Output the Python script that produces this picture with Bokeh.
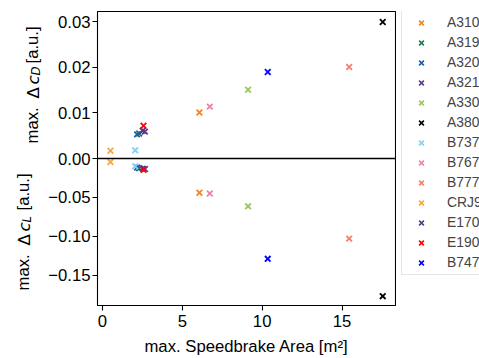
import math
from bokeh.plotting import figure
from bokeh.layouts import row
from bokeh.models import Range1d, FixedTicker, Span, Label, Legend, LegendItem
from bokeh.embed import file_html
from bokeh.resources import INLINE

# ---------------- data ----------------
aircraft = ["A310", "A319", "A320", "A321", "A330", "A380", "B737",
            "B767", "B777", "CRJ9", "E170", "E190", "B747"]
area = [6.07, 2.30, 2.17, 2.66, 9.12, 17.55, 2.05,
        6.72, 15.45, 0.50, 2.52, 2.57, 10.35]
max_dcd = [0.0101, 0.0055, 0.0053, 0.0059, 0.0151, 0.0300, 0.0018,
           0.0114, 0.0201, 0.0017, 0.0061, 0.0072, 0.0190]
max_dcl = [-0.0440, -0.0125, -0.0115, -0.0135, -0.0615, -0.1770, -0.0100,
           -0.0450, -0.1030, -0.0045, -0.0130, -0.0145, -0.1290]
colors = ["#f28522", "#1b7c4a", "#1d5ea8", "#5c3b8c", "#99c85a", "#000000", "#87cef0",
          "#ee7fb0", "#f4806c", "#faa63c", "#5a3a8e", "#ff0000", "#0000ff"]

x_ticks = [0, 5, 10, 15]
cd_ticks = [0.0, 0.01, 0.02, 0.03]
cd_labels = ["0.00", "0.01", "0.02", "0.03"]
cl_ticks = [-0.15, -0.10, -0.05]
cl_labels = ["\u22120.15", "\u22120.10", "\u22120.05"]

x_lim = (-0.31, 18.35)
cd_max = 0.0323
cl_min = -0.189

FONT = "Liberation Sans"
FS = "16.7px"
H = 358
TOP_B = 11
BOT_B = 53
LAB_W = 45
MAIN_W = 351
LEG_W = 479 - LAB_W - MAIN_W
FRAME_BOTTOM = H - BOT_B  # page y of the frames' bottom edge

# ---------------- main plot (both panels) ----------------
p = figure(width=MAIN_W, height=H,
           x_range=Range1d(*x_lim),
           y_range=Range1d(cl_min, -cl_min),
           min_border_left=51, min_border_right=1, min_border_top=TOP_B, min_border_bottom=BOT_B,
           output_backend="svg", toolbar_location=None)
p.extra_y_ranges = {"top": Range1d(-cd_max, cd_max)}

p.xgrid.visible = False
p.ygrid.visible = False
p.outline_line_color = "black"
p.outline_line_width = 1.1
p.outline_line_alpha = 1.0

xa = p.xaxis[0]
xa.ticker = FixedTicker(ticks=x_ticks)
xa.minor_tick_line_color = None
xa.major_tick_in = 0
xa.major_tick_out = 5
xa.major_tick_line_width = 1.1
xa.major_label_standoff = 4
xa.major_label_text_font = FONT
xa.major_label_text_font_size = FS
xa.major_label_text_color = "black"
xa.axis_line_color = "black"
xa.axis_label = "max. Speedbrake Area [m\u00b2]"
xa.axis_label_text_font = FONT
xa.axis_label_text_font_size = FS
xa.axis_label_text_font_style = "normal"
xa.axis_label_text_color = "black"
xa.axis_label_standoff = 7

# one y axis for both panels; the top-panel ticks are mapped through the ratio of the ranges
ratio = (-cl_min) / cd_max
top_pos = [v * ratio for v in cd_ticks]
ya = p.yaxis[0]
ya.ticker = FixedTicker(ticks=cl_ticks + top_pos)
overrides = {}
for v, lab_txt in zip(cl_ticks, cl_labels):
    overrides[v] = lab_txt
for v, lab_txt in zip(top_pos, cd_labels):
    overrides[v] = lab_txt
ya.major_label_overrides = overrides
ya.minor_tick_line_color = None
ya.major_tick_in = 0
ya.major_tick_out = 5
ya.major_tick_line_width = 1.1
ya.major_label_standoff = 2
ya.major_label_text_font = FONT
ya.major_label_text_font_size = FS
ya.major_label_text_color = "black"
ya.axis_line_color = "black"

p.add_layout(Span(location=0, dimension="width", line_color="black", line_width=1.6))

for name, xv, cd, cl, c in zip(aircraft, area, max_dcd, max_dcl, colors):
    p.scatter(x=[xv], y=[cd], y_range_name="top", marker="x", size=8,
              line_color=c, line_width=1.8)
    p.scatter(x=[xv], y=[cl], marker="x", size=8, line_color=c, line_width=1.8)

# ---------------- y-axis titles ----------------
lab = figure(width=LAB_W, height=H, x_range=Range1d(0, 1), y_range=Range1d(0, 1),
             min_border_left=0, min_border_right=0, min_border_top=TOP_B, min_border_bottom=BOT_B,
             x_axis_location=None, y_axis_location=None,
             output_backend="svg", toolbar_location=None)
lab.outline_line_color = None
lab.xgrid.visible = False
lab.ygrid.visible = False


def ylabel(x0, page_y_start, sub):
    y0 = FRAME_BOTTOM - page_y_start
    kw = dict(x_units="screen", y_units="screen", angle=math.pi / 2,
              text_align="left", text_baseline="alphabetic", text_color="black")
    pieces = [
        (0.0, 0.0, "max.", FONT, "normal", FS),
        (0.0, 45.0, "\u0394", "DejaVu Sans", "normal", FS),
        (0.0, 59.0, "c", "DejaVu Sans", "italic", FS),
        (3.5, 68.0, sub, "DejaVu Sans", "italic", "11.7px"),
        (0.0, 80.0, "[a.u.]", FONT, "normal", FS),
    ]
    for dx, dy, t, f, st, fs in pieces:
        lab.add_layout(Label(x=x0 + dx, y=y0 + dy, text=t, text_font=f,
                             text_font_style=st, text_font_size=fs, **kw))


ylabel(32.0, 143, "D")
ylabel(23.0, 290, "L")

# ---------------- legend ----------------
# the legend panel's ranges lie away from the data, so its renderers only feed the legend
leg = figure(width=LEG_W, height=H, x_range=Range1d(-20, -19), y_range=Range1d(-20, -19),
             min_border_left=0, min_border_right=0, min_border_top=TOP_B, min_border_bottom=BOT_B,
             x_axis_location=None, y_axis_location=None,
             output_backend="svg", toolbar_location=None)
leg.outline_line_color = None
leg.xgrid.visible = False
leg.ygrid.visible = False
items = []
for name, xv, cd, c in zip(aircraft, area, max_dcd, colors):
    r = leg.scatter(x=[xv], y=[cd], marker="x", size=8, line_color=c, line_width=1.6)
    items.append(LegendItem(label=name, renderers=[r]))
leg_top = 11.7
leg_h = 2 * 3 + 13 * 17 + 12 * 3
legend = Legend(items=items, location=(5, FRAME_BOTTOM - (leg_top + leg_h)),
                label_text_font=FONT, label_text_font_size="13.9px",
                label_height=17, glyph_height=17, glyph_width=32,
                spacing=3, padding=3, margin=0, label_standoff=10,
                border_line_color="#cccccc", border_line_width=1,
                background_fill_color="white", background_fill_alpha=1.0)
leg.add_layout(legend, "center")

layout = row(lab, p, leg, spacing=0)
open("out.html", "w").write(file_html(layout, INLINE))
